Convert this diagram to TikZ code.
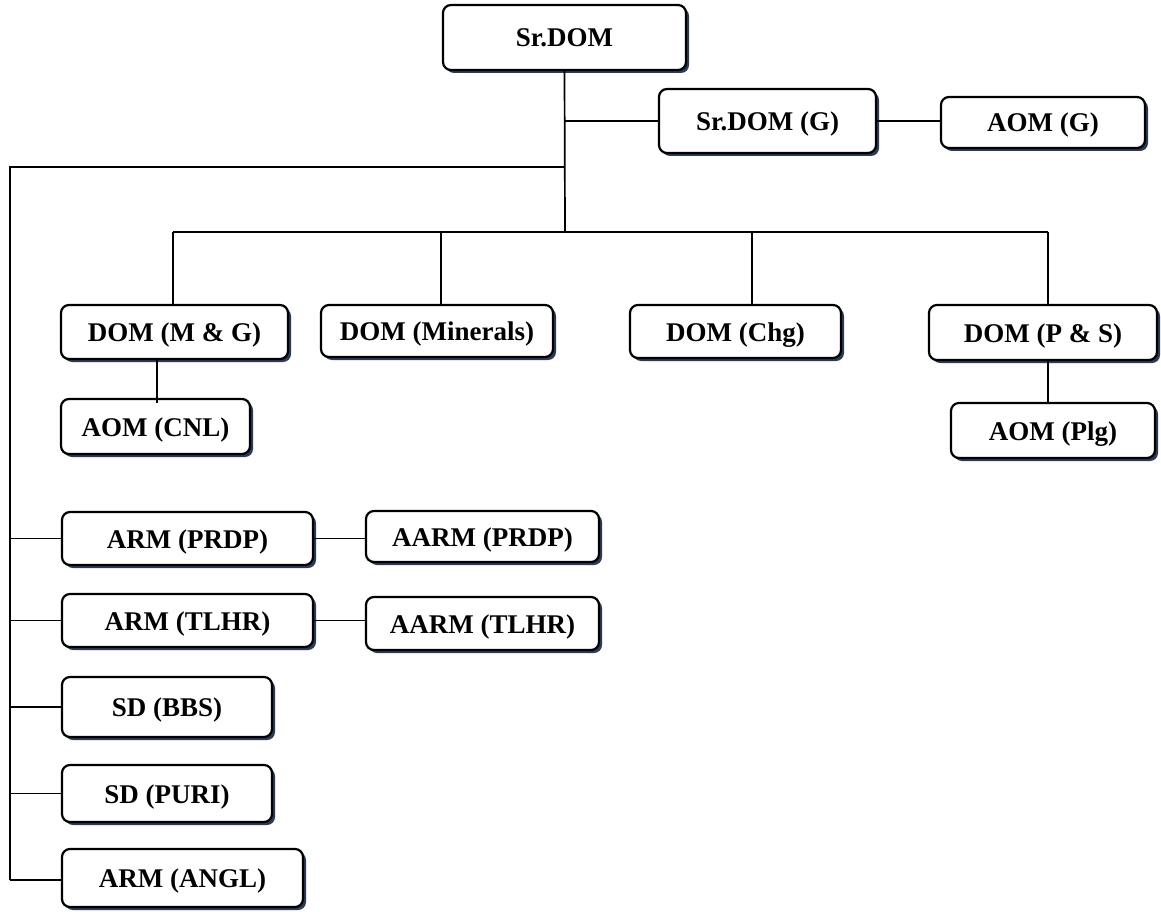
\documentclass[tikz,border=0pt]{standalone}
\usepackage{fontspec}
\setmainfont{Liberation Serif}
\usetikzlibrary{shadows}
\definecolor{shadowc}{HTML}{1F3050}
\tikzset{
  box/.style={draw=black, line width=2.2pt, rounded corners=8pt, fill=white,
    inner sep=0pt, align=center, text height=20pt, text depth=1pt,
    font=\bfseries\fontsize{27}{30}\selectfont,
    drop shadow={shadow xshift=3pt, shadow yshift=-3pt, fill=shadowc, opacity=0.95}},
  conn/.style={draw=black, line width=1.7pt}
}
\begin{document}
\begin{tikzpicture}[x=1pt,y=-1pt]
\useasboundingbox (0,0) rectangle (1161,912);
% nodes
\node[box, minimum width=243pt, minimum height=65pt] (srdom) at (564.5,37.5) {Sr.DOM};
\node[box, minimum width=217pt, minimum height=64pt] (srdomg) at (767.5,121) {Sr.DOM (G)};
\node[box, minimum width=204pt, minimum height=51pt] (aomg) at (1043,122.5) {AOM (G)};
\node[box, minimum width=227pt, minimum height=54pt] (mg) at (174.5,332) {DOM (M \& G)};
\node[box, minimum width=232pt, minimum height=52pt] (mine) at (437,331) {DOM (Minerals)};
\node[box, minimum width=211pt, minimum height=53pt] (chg) at (735.5,331.5) {DOM (Chg)};
\node[box, minimum width=228pt, minimum height=55pt] (ps) at (1043,332.5) {DOM (P \& S)};
\node[box, minimum width=189pt, minimum height=55pt] (cnl) at (155.5,426.5) {AOM (CNL)};
\node[box, minimum width=204pt, minimum height=55pt] (plg) at (1053,430.5) {AOM (Plg)};
\node[box, minimum width=251pt, minimum height=53pt] (prdp) at (187.5,538.5) {ARM (PRDP)};
\node[box, minimum width=233pt, minimum height=51pt] (aprdp) at (482.5,536.5) {AARM (PRDP)};
\node[box, minimum width=251pt, minimum height=53pt] (tlhr) at (187.5,620.5) {ARM (TLHR)};
\node[box, minimum width=233pt, minimum height=53pt] (atlhr) at (482.5,623.5) {AARM (TLHR)};
\node[box, minimum width=210pt, minimum height=60pt] (bbs) at (167,707) {SD (BBS)};
\node[box, minimum width=210pt, minimum height=57pt] (puri) at (167,793.5) {SD (PURI)};
\node[box, minimum width=241pt, minimum height=58pt] (angl) at (182.5,878) {ARM (ANGL)};
% coordinates
\coordinate (jbar) at (565,232);
\coordinate (jleft) at (565,167);
\coordinate (ltop) at (10,167);
\coordinate (lbot) at (10,880);
\coordinate (b1) at (173,232);
\coordinate (b2) at (441,232);
\coordinate (b3) at (752,232);
\coordinate (b4) at (1048,232);
\coordinate (mgdrop) at (157,0);
% connectors
\draw[conn] (srdom.south) -- (jbar);
\draw[conn] (srdom.south |- srdomg.west) -- (srdomg.west);
\draw[conn] (srdomg.east) -- (aomg.west |- srdomg.east);
\draw[conn] (jleft) -- (ltop) -- (lbot);
\draw[conn] (b1) -- (b4);
\draw[conn] (b1) -- (b1 |- mg.north);
\draw[conn] (b2) -- (b2 |- mine.north);
\draw[conn] (b3) -- (b3 |- chg.north);
\draw[conn] (b4) -- (b4 |- ps.north);
\draw[conn] (mgdrop |- mg.south) -- ([yshift=-5pt]mgdrop |- cnl.north);
\draw[conn] (b4 |- ps.south) -- (b4 |- plg.north);
\draw[conn] (ltop |- prdp.west) -- (prdp.west);
\draw[conn] (prdp.east) -- (aprdp.west |- prdp.east);
\draw[conn] (ltop |- tlhr.west) -- (tlhr.west);
\draw[conn] (tlhr.east) -- (atlhr.west |- tlhr.east);
\draw[conn] (ltop |- bbs.west) -- (bbs.west);
\draw[conn] (ltop |- puri.west) -- (puri.west);
\draw[conn] (lbot) -- (lbot -| angl.west);
\end{tikzpicture}
\end{document}
